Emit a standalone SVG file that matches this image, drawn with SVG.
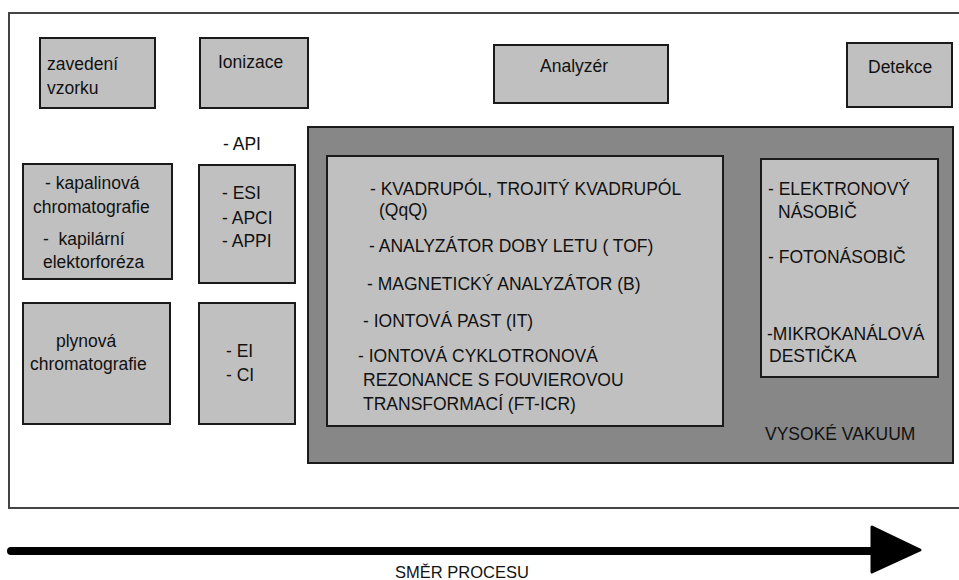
<svg xmlns="http://www.w3.org/2000/svg" width="959" height="580" viewBox="0 0 959 580">
<style>
.bx{fill:#c0c0c0;stroke:#1a1a1a;stroke-width:2}
.dk{fill:#878787;stroke:#1a1a1a;stroke-width:2}
text{font-family:"Liberation Sans",Arial,sans-serif;font-size:17.5px;fill:#111}
</style>
<rect width="959" height="580" fill="#fff"/>
<rect x="9" y="13" width="960" height="495" fill="#fff" stroke="#444" stroke-width="2"/>
<g id="zavedeni"><rect class="bx" x="40" y="38" width="115" height="70"/><text x="47" y="70">zavedení</text><text x="47" y="94">vzorku</text></g>
<g id="ionizace"><rect class="bx" x="200" y="38" width="108" height="70"/><text x="218" y="68">Ionizace</text></g>
<g id="analyzer"><rect class="bx" x="494" y="45" width="174" height="58"/><text x="540" y="72">Analyzér</text></g>
<g id="detekce"><rect class="bx" x="847" y="43" width="105" height="64"/><text x="868" y="73">Detekce</text></g>
<g id="api"><text x="223" y="150">- API</text></g>
<g id="kapalinova"><rect class="bx" x="23" y="164" width="149" height="115"/><text x="45" y="189">- kapalinová</text><text x="33" y="213">chromatografie</text><text x="43" y="245" xml:space="preserve">-  kapilární</text><text x="43" y="268">elektorforéza</text></g>
<g id="esi"><rect class="bx" x="199" y="165" width="96" height="118"/><text x="222" y="199">- ESI</text><text x="222" y="224">- APCI</text><text x="222" y="247">- APPI</text></g>
<g id="plynova"><rect class="bx" x="23" y="303" width="147" height="121"/><text x="56" y="347">plynová</text><text x="30" y="370">chromatografie</text></g>
<g id="ei"><rect class="bx" x="199" y="303" width="96" height="121"/><text x="226" y="357">- EI</text><text x="226" y="381">- CI</text></g>
<g id="vakuum"><rect class="dk" x="308" y="127" width="645" height="336"/><text x="765" y="440">VYSOKÉ VAKUUM</text></g>
<g id="analyzatory"><rect class="bx" x="327" y="156" width="396" height="270"/>
<text x="370" y="195">- KVADRUPÓL, TROJITÝ KVADRUPÓL</text>
<text x="379" y="216">(QqQ)</text>
<text x="369" y="252">- ANALYZÁTOR DOBY LETU ( TOF)</text>
<text x="367" y="290">- MAGNETICKÝ ANALYZÁTOR (B)</text>
<text x="363" y="327">- IONTOVÁ PAST (IT)</text>
<text x="358" y="362">- IONTOVÁ CYKLOTRONOVÁ</text>
<text x="363" y="386">REZONANCE S FOUVIEROVOU</text>
<text x="363" y="410">TRANSFORMACÍ (FT-ICR)</text></g>
<g id="detektory"><rect class="bx" x="761" y="159" width="177" height="218"/>
<text x="768" y="195">- ELEKTRONOVÝ</text>
<text x="778" y="218">NÁSOBIČ</text>
<text x="768" y="263">- FOTONÁSOBIČ</text>
<text x="767" y="340">-MIKROKANÁLOVÁ</text>
<text x="769" y="362">DESTIČKA</text></g>
<g id="connectors">
<line x1="11" y1="551" x2="875" y2="551" stroke="#000" stroke-width="8" stroke-linecap="round"/>
<polygon points="872,527 920,550 872,572" fill="#000" stroke="#000" stroke-width="3" stroke-linejoin="round"/>
</g>
<g id="smer"><text x="395" y="578" font-size="16px" style="font-size:16.5px">SMĚR PROCESU</text></g>
</svg>
